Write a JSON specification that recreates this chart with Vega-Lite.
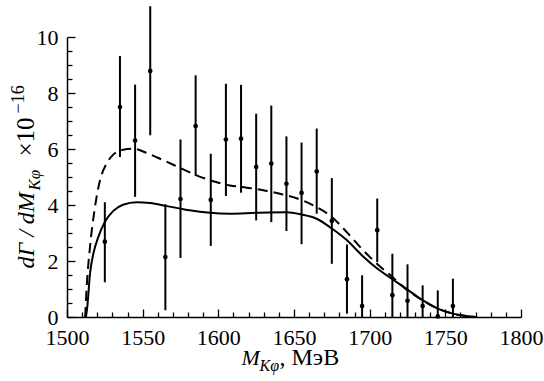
{
  "$schema": "https://vega.github.io/schema/vega-lite/v6.json",
  "width": 454,
  "height": 280,
  "autosize": "none",
  "padding": {"left": 67, "top": 37, "right": 23, "bottom": 64},
  "background": "white",
  "config": {
    "view": {"stroke": null},
    "font": "Liberation Serif",
    "axis": {
      "labelFont": "Liberation Serif",
      "titleFont": "Liberation Serif",
      "labelFontSize": 22,
      "titleFontSize": 22,
      "labelColor": "black",
      "titleColor": "black",
      "domainColor": "black",
      "tickColor": "black",
      "grid": false,
      "titleFontWeight": "normal",
      "domainWidth": 1.5,
      "tickWidth": 1.3
    }
  },
  "datasets": {
    "pts": [
      {"m": 1525, "v": 2.69, "lo": 1.24, "hi": 4.10},
      {"m": 1535, "v": 7.5, "lo": 5.71, "hi": 9.32},
      {"m": 1545, "v": 6.3, "lo": 4.29, "hi": 8.3},
      {"m": 1555, "v": 8.79, "lo": 6.49, "hi": 11.1},
      {"m": 1565, "v": 2.14, "lo": 0.24, "hi": 4.03},
      {"m": 1575, "v": 4.21, "lo": 2.11, "hi": 6.34},
      {"m": 1585, "v": 6.82, "lo": 5.04, "hi": 8.63},
      {"m": 1595, "v": 4.18, "lo": 2.54, "hi": 5.83},
      {"m": 1605, "v": 6.34, "lo": 4.32, "hi": 8.33},
      {"m": 1615, "v": 6.37, "lo": 4.44, "hi": 8.29},
      {"m": 1625, "v": 5.36, "lo": 3.45, "hi": 7.26},
      {"m": 1635, "v": 5.48, "lo": 3.39, "hi": 7.55},
      {"m": 1645, "v": 4.76, "lo": 3.07, "hi": 6.45},
      {"m": 1655, "v": 4.43, "lo": 2.6, "hi": 6.23},
      {"m": 1665, "v": 5.2, "lo": 3.69, "hi": 6.73},
      {"m": 1675, "v": 3.43, "lo": 1.9, "hi": 4.96},
      {"m": 1685, "v": 1.35, "lo": 0.12, "hi": 2.59},
      {"m": 1695, "v": 0.39, "lo": 0, "hi": 1.49},
      {"m": 1705, "v": 3.1, "lo": 1.96, "hi": 4.23},
      {"m": 1715, "v": 0.78, "lo": 0, "hi": 2.26},
      {"m": 1725, "v": 0.58, "lo": 0, "hi": 1.88},
      {"m": 1735, "v": 0.39, "lo": 0, "hi": 1.13},
      {"m": 1745, "v": 0.02, "lo": 0, "hi": 0.95},
      {"m": 1755, "v": 0.39, "lo": 0, "hi": 1.37}
    ],
    "solid": [
      {"m": 1512.5, "y": 0},
      {"m": 1513.4, "y": 0.36},
      {"m": 1515.2, "y": 1.55},
      {"m": 1517.4, "y": 2.26},
      {"m": 1520.7, "y": 2.86},
      {"m": 1525, "y": 3.39},
      {"m": 1530.6, "y": 3.79},
      {"m": 1537, "y": 4.01},
      {"m": 1546, "y": 4.1},
      {"m": 1555, "y": 4.07},
      {"m": 1566, "y": 3.96},
      {"m": 1575, "y": 3.87},
      {"m": 1581, "y": 3.81},
      {"m": 1594.5, "y": 3.72},
      {"m": 1607.7, "y": 3.69},
      {"m": 1625, "y": 3.72},
      {"m": 1645, "y": 3.74},
      {"m": 1655, "y": 3.66},
      {"m": 1665, "y": 3.51},
      {"m": 1675, "y": 3.16},
      {"m": 1685, "y": 2.74},
      {"m": 1695, "y": 2.2},
      {"m": 1705, "y": 1.73},
      {"m": 1715, "y": 1.35},
      {"m": 1725, "y": 0.98},
      {"m": 1735, "y": 0.6},
      {"m": 1745, "y": 0.3},
      {"m": 1755, "y": 0.12},
      {"m": 1770, "y": 0}
    ],
    "dashed": [
      {"m": 1512, "y": 0},
      {"m": 1513, "y": 1.07},
      {"m": 1515.2, "y": 2.5},
      {"m": 1518.5, "y": 3.93},
      {"m": 1521.8, "y": 4.88},
      {"m": 1526.2, "y": 5.48},
      {"m": 1530.6, "y": 5.8},
      {"m": 1537.2, "y": 5.97},
      {"m": 1543.8, "y": 6.01},
      {"m": 1552.6, "y": 5.86},
      {"m": 1563.6, "y": 5.6},
      {"m": 1574.6, "y": 5.33},
      {"m": 1585.6, "y": 5.06},
      {"m": 1596.6, "y": 4.85},
      {"m": 1607.7, "y": 4.7},
      {"m": 1618.7, "y": 4.62},
      {"m": 1629.7, "y": 4.53},
      {"m": 1640.7, "y": 4.4},
      {"m": 1651.7, "y": 4.24},
      {"m": 1662.7, "y": 3.99},
      {"m": 1675, "y": 3.57},
      {"m": 1684.7, "y": 3.04},
      {"m": 1694.7, "y": 2.44},
      {"m": 1704.6, "y": 1.91},
      {"m": 1715, "y": 1.43},
      {"m": 1725, "y": 0.95},
      {"m": 1735, "y": 0.6},
      {"m": 1745, "y": 0.3},
      {"m": 1755, "y": 0.12},
      {"m": 1770, "y": 0}
    ]
  },
  "layer": [
    {
      "data": {"name": "pts"},
      "mark": {"type": "rule", "color": "black", "strokeWidth": 2},
      "encoding": {
        "x": {
          "field": "m", "type": "quantitative",
          "scale": {"domain": [1500, 1800], "nice": false, "zero": false},
          "axis": {
            "orient": "bottom",
            "values": [1500, 1550, 1600, 1650, 1700, 1750, 1800],
            "format": "d",
            "labelFont": "Liberation Serif",
            "labelFontSize": 22,
            "tickSize": -8,
            "labelPadding": 18,
            "labelFlush": false,
            "labelOverlap": false,
            "title": "M",
            "titleFontStyle": "italic",
            "titleAlign": "left",
            "titleAnchor": null,
            "titleBaseline": "alphabetic",
            "titleX": 174,
            "titleY": 47
          }
        },
        "y": {
          "field": "lo", "type": "quantitative",
          "scale": {"domain": [0, 10], "nice": false},
          "axis": {
            "orient": "left",
            "values": [0, 2, 4, 6, 8, 10],
            "format": "d",
            "labelFont": "Liberation Serif",
            "labelFontSize": 22,
            "tickSize": -8,
            "labelPadding": 17,
            "labelFlush": false,
            "labelOverlap": false,
            "title": "dΓ / dM",
            "titleFontSize": 24,
            "titleFontStyle": "italic",
            "titleAngle": -90,
            "titleAlign": "left",
            "titleAnchor": null,
            "titleBaseline": "alphabetic",
            "titleX": -34,
            "titleY": 231
          }
        },
        "y2": {"field": "hi"}
      }
    },
    {
      "data": {"name": "pts"},
      "mark": {"type": "point", "filled": true, "size": 22, "color": "black", "opacity": 1},
      "encoding": {
        "x": {
          "field": "m", "type": "quantitative",
          "axis": {
            "orient": "bottom",
            "values": [1510, 1520, 1530, 1540, 1560, 1570, 1580, 1590, 1610, 1620, 1630, 1640, 1660, 1670, 1680, 1690, 1710, 1720, 1730, 1740, 1760, 1770, 1780, 1790],
            "tickSize": -5,
            "labels": false,
            "domain": false,
            "title": "Kφ",
            "titleFontSize": 16,
            "titleFontStyle": "italic",
            "titleAlign": "left",
            "titleAnchor": null,
            "titleBaseline": "alphabetic",
            "titleX": 192,
            "titleY": 53
          }
        },
        "y": {
          "field": "v", "type": "quantitative",
          "axis": {
            "orient": "left",
            "values": [0.5, 1, 1.5, 2.5, 3, 3.5, 4.5, 5, 5.5, 6.5, 7, 7.5, 8.5, 9, 9.5],
            "tickSize": -5,
            "labels": false,
            "domain": false,
            "title": "Kφ",
            "titleFontSize": 17,
            "titleFontStyle": "italic",
            "titleAngle": -90,
            "titleAlign": "left",
            "titleAnchor": null,
            "titleBaseline": "alphabetic",
            "titleX": -28,
            "titleY": 153
          }
        }
      }
    },
    {
      "data": {"name": "solid"},
      "mark": {"type": "line", "color": "black", "strokeWidth": 2, "interpolate": "monotone"},
      "encoding": {
        "x": {
          "field": "m", "type": "quantitative",
          "axis": {
            "orient": "bottom",
            "domain": false, "ticks": false, "labels": false,
            "title": ", МэВ",
            "titleFontSize": 24,
            "titleAlign": "left",
            "titleAnchor": null,
            "titleBaseline": "alphabetic",
            "titleX": 212,
            "titleY": 47
          }
        },
        "y": {
          "field": "y", "type": "quantitative",
          "axis": {
            "orient": "left",
            "domain": false, "ticks": false, "labels": false,
            "title": "×10",
            "titleFontSize": 25,
            "titleAngle": -90,
            "titleAlign": "left",
            "titleAnchor": null,
            "titleBaseline": "alphabetic",
            "titleX": -34,
            "titleY": 119
          }
        }
      }
    },
    {
      "data": {"name": "dashed"},
      "mark": {"type": "line", "color": "black", "strokeWidth": 2, "strokeDash": [10, 6], "interpolate": "monotone"},
      "encoding": {
        "x": {"field": "m", "type": "quantitative", "axis": null},
        "y": {
          "field": "y", "type": "quantitative",
          "axis": {
            "orient": "left",
            "domain": false, "ticks": false, "labels": false,
            "title": "−16",
            "titleFontSize": 18,
            "titleAngle": -90,
            "titleAlign": "left",
            "titleAnchor": null,
            "titleBaseline": "alphabetic",
            "titleX": -44,
            "titleY": 76
          }
        }
      }
    }
  ],
  "resolve": {"axis": {"x": "independent", "y": "independent"}}
}
